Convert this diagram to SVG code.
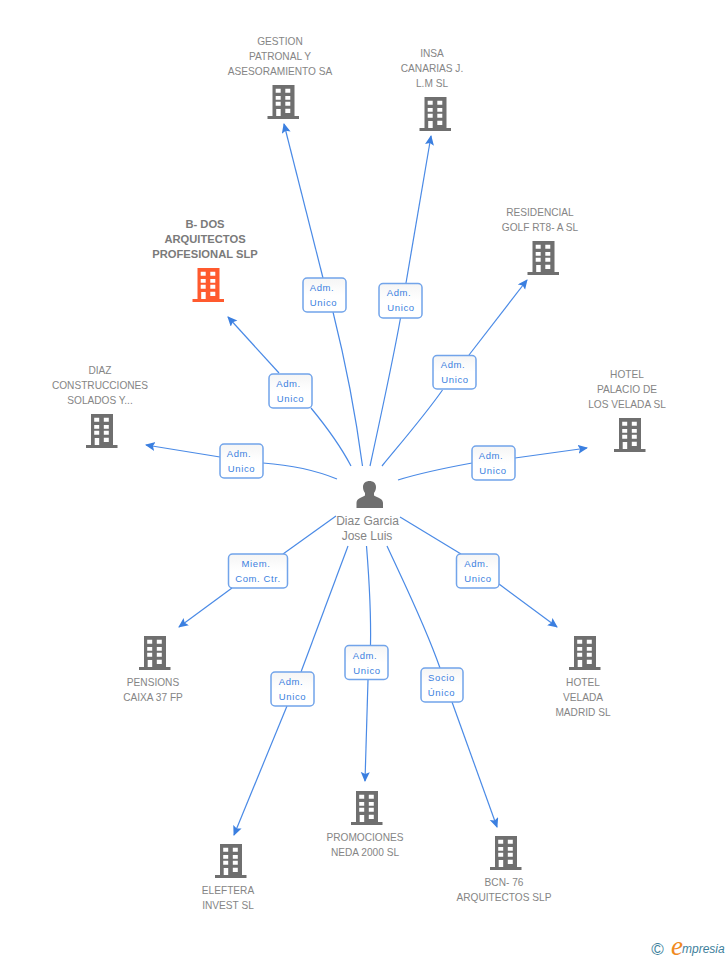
<svg xmlns="http://www.w3.org/2000/svg" width="728" height="960" viewBox="0 0 728 960">
<style>
text{font-family:"Liberation Sans",Arial,sans-serif}
.n text{font-size:10.15px;fill:#858585;text-anchor:middle}
.n text.t{font-size:11.2px;font-weight:bold;fill:#7a7a7a}
.n text.m{font-size:12px}
.b rect{fill:url(#g);stroke:#72a4ea;stroke-width:1.5}
.b text{font-size:9.5px;fill:#3b7fe0;text-anchor:middle;letter-spacing:.6px}
.c path{fill:none;stroke:#4a8ae6;stroke-width:1.2}
.c path.h{marker-end:url(#a)}
</style>
<defs>
<linearGradient id="g" x1="0" y1="0" x2="0" y2="1"><stop offset="0" stop-color="#f5f5f5"/><stop offset=".5" stop-color="#fff"/></linearGradient>
<marker id="a" markerUnits="userSpaceOnUse" markerWidth="11" markerHeight="10" refX="9" refY="4.5" orient="auto"><path d="M0 0L10 4.500L0 9L2 4.500Z" fill="#3b7fe0"/></marker>
<symbol id="bd" width="32" height="34" viewBox="0 0 32 34" overflow="visible">
<path fill-rule="evenodd" d="M5 0H27V31H31.500V34H0V31H5ZM8.200 3.700V7.700H13.200V3.700ZM17.800 3.700V7.700H22.800V3.700ZM8.200 11V14.700H13.200V11ZM17.800 11V14.700H22.800V11ZM8.200 16.700V20.700H13.200V16.700ZM17.800 16.700V20.700H22.800V16.700ZM8.700 24V31H13.200V24ZM17.800 23.700V28H22.800V23.700Z"/>
</symbol>
</defs>
<g class="c">
<path d="M362.500 466C355 410 345 360 333 312"/><path class="h" d="M323 278L284 124"/>
<path d="M370 466C380 420 393 360 400.500 318"/><path class="h" d="M406 283L431 136"/>
<path d="M382 466C400 444 425 415 442.500 390"/><path class="h" d="M469 355L527 280"/>
<path d="M398 480C420 473 445 468 472 463"/><path class="h" d="M515 458L587 448"/>
<path d="M351 466C340 445 325 425 311 408"/><path class="h" d="M279 373L228 317"/>
<path d="M337 479C315 470 290 465 263 463"/><path class="h" d="M220 457L146 445"/>
<path d="M336 516L283 554"/><path class="h" d="M232 588L179 627"/>
<path d="M348 546L301 672"/><path class="h" d="M287 706L234 835"/>
<path d="M366.500 546C370 590 371 620 370.500 645"/><path class="h" d="M368 680L365 781"/>
<path d="M387 546C405 585 425 625 440 668"/><path class="h" d="M452 702L497 827"/>
<path d="M400 517L461 554"/><path class="h" d="M499 584L557 627"/>
</g>
<g id="n1" class="n"><use href="#bd" x="267.500" y="85" fill="#6f6f6f"/><text x="280" y="45">GESTION</text><text x="280" y="60">PATRONAL Y</text><text x="280" y="75">ASESORAMIENTO SA</text></g>
<g id="n2" class="n"><use href="#bd" x="419.500" y="97" fill="#6f6f6f"/><text x="432" y="57">INSA</text><text x="432" y="72">CANARIAS J.</text><text x="432" y="87">L.M SL</text></g>
<g id="n3" class="n"><use href="#bd" x="527.500" y="241" fill="#6f6f6f"/><text x="540" y="216">RESIDENCIAL</text><text x="540" y="231">GOLF RT8- A SL</text></g>
<g id="n4" class="n"><use href="#bd" x="614" y="418" fill="#6f6f6f"/><text x="627" y="378">HOTEL</text><text x="627" y="393">PALACIO DE</text><text x="627" y="408">LOS VELADA SL</text></g>
<g id="n5" class="n"><use href="#bd" x="192.500" y="268" fill="#ff5a2e"/><text class="t" x="205" y="228">B- DOS</text><text class="t" x="205" y="243">ARQUITECTOS</text><text class="t" x="205" y="258">PROFESIONAL SLP</text></g>
<g id="n6" class="n"><use href="#bd" x="86" y="414" fill="#6f6f6f"/><text x="100" y="374">DIAZ</text><text x="100" y="389">CONSTRUCCIONES</text><text x="100" y="404">SOLADOS Y...</text></g>
<g id="n7" class="n"><use href="#bd" x="139" y="636" fill="#6f6f6f"/><text x="153" y="686">PENSIONS</text><text x="153" y="701">CAIXA 37 FP</text></g>
<g id="n8" class="n"><use href="#bd" x="569" y="636" fill="#6f6f6f"/><text x="583" y="686">HOTEL</text><text x="583" y="701">VELADA</text><text x="583" y="716">MADRID SL</text></g>
<g id="n9" class="n"><use href="#bd" x="351" y="791" fill="#6f6f6f"/><text x="365" y="841">PROMOCIONES</text><text x="365" y="856">NEDA 2000 SL</text></g>
<g id="n10" class="n"><use href="#bd" x="215" y="844" fill="#6f6f6f"/><text x="228" y="894">ELEFTERA</text><text x="228" y="909">INVEST SL</text></g>
<g id="n11" class="n"><use href="#bd" x="490" y="836" fill="#6f6f6f"/><text x="504" y="886">BCN- 76</text><text x="504" y="901">ARQUITECTOS SLP</text></g>
<g id="center" class="n">
<path fill="#6f6f6f" d="M356.500 508V503C356.500 499 360 498 365 495.500V493C363.500 491 363 489 363 487C363 483 366 481 369.500 481C373 481 376 483 376 487C376 489 375.500 491 374 493V495.500C379 498 383 499 383 503V508Z"/>
<text class="m" x="367.500" y="525">Diaz Garcia</text><text class="m" x="367" y="540">Jose Luis</text></g>
<g class="b">
<g id="l1"><rect x="303" y="278" width="43" height="34" rx="4"/><text x="322" y="291">Adm.</text><text x="323.500" y="306">Unico</text></g>
<g id="l2"><rect x="379" y="283.500" width="43" height="34.500" rx="4"/><text x="399" y="296">Adm.</text><text x="401" y="311">Unico</text></g>
<g id="l3"><rect x="433" y="355.500" width="43" height="33.500" rx="4"/><text x="453" y="368">Adm.</text><text x="455" y="383">Unico</text></g>
<g id="l4"><rect x="472" y="446" width="43" height="34" rx="4"/><text x="491" y="459">Adm.</text><text x="493" y="474">Unico</text></g>
<g id="l5"><rect x="269" y="374" width="43" height="34" rx="4"/><text x="288.500" y="387">Adm.</text><text x="290.500" y="402">Unico</text></g>
<g id="l6"><rect x="220" y="444" width="43" height="34" rx="4"/><text x="239" y="457">Adm.</text><text x="241.500" y="472">Unico</text></g>
<g id="l7"><rect x="228.500" y="554" width="59" height="34" rx="4"/><text x="256" y="567">Miem.</text><text x="258" y="582">Com. Ctr.</text></g>
<g id="l8"><rect x="271" y="672" width="43" height="34" rx="4"/><text x="291" y="685">Adm.</text><text x="292.500" y="700">Unico</text></g>
<g id="l9"><rect x="345" y="645.500" width="43" height="34" rx="4"/><text x="365" y="659">Adm.</text><text x="367" y="674">Unico</text></g>
<g id="l10"><rect x="421" y="668" width="42" height="34" rx="4"/><text x="441.500" y="681">Socio</text><text x="441.500" y="696">Único</text></g>
<g id="l11"><rect x="456.500" y="554" width="42.500" height="34" rx="4"/><text x="476.500" y="567">Adm.</text><text x="478" y="582">Unico</text></g>
</g>
<g id="logo">
<text x="657.500" y="955" text-anchor="middle" style="font-size:17px;fill:#3e7f9c">©</text>
<text x="671" y="955" style="font-family:'Liberation Serif',serif;font-style:italic;font-size:27px;fill:#f08a1e">e</text>
<text x="682" y="953" style="font-style:italic;font-size:12px;fill:#3e7f9c">mpresia</text>
</g>
</svg>
